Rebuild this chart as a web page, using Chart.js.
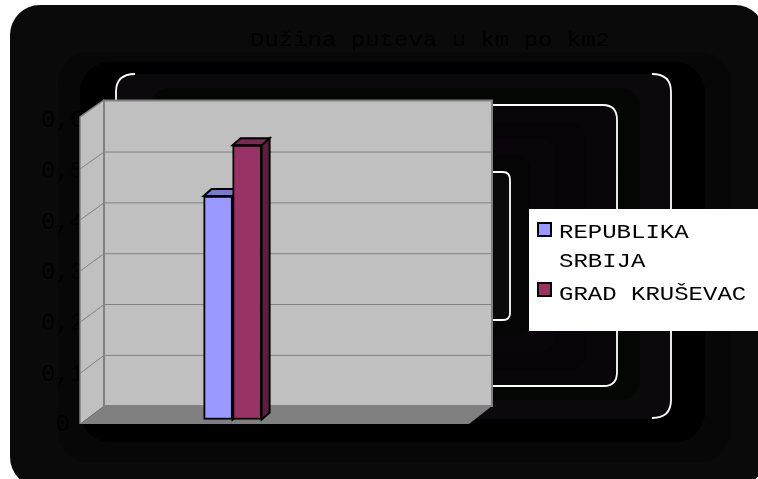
<!DOCTYPE html>
<html>
<head>
<meta charset="utf-8">
<style>
  html, body { margin: 0; padding: 0; background: #fff; }
  canvas { display: block; }
</style>
<script src="https://cdn.jsdelivr.net/npm/chart.js@4/dist/chart.umd.js"></script>
</head>
<body>
<canvas id="chart" width="758" height="479"></canvas>
<script>
const categories = ['']
const seriesNames = ['REPUBLIKA SRBIJA', 'GRAD KRUŠEVAC']
const republikaValues = [0.44]
const krusevacValues = [0.54]
const yTickLabels = ['0', '0,1', '0,2', '0,3', '0,4', '0,5', '0,6']
const titleText = 'Dužina puteva u km po km2'

const FONT = '"Liberation Mono", monospace'
const BLUE = { front: '#9999FF', top: '#7A7ACC', side: '#5C5C99' }
const WINE = { front: '#993366', top: '#7A2952', side: '#5C1F3D' }
const DEPTH_X = 8, DEPTH_Y = 7

// stacked near-black bands behind the plot: x0, y0, x1, y1, radius, colour
const bands = [
  [10, 5, 765, 487, 30, '#0a0a0a'],
  [58, 52, 730, 462, 30, '#070707'],
  [80, 62, 705, 442, 30, '#000000'],
  [116, 74, 671, 419, 20, '#0b090b'],
  [150, 88, 640, 400, 20, '#040604'],
  [200, 105, 617, 386, 15, '#090609'],
  [200, 122, 585, 370, 15, '#080308'],
  [200, 138, 555, 352, 15, '#0a050a'],
  [200, 155, 530, 336, 15, '#050505'],
  [200, 172, 510, 320, 10, '#0a0a0a'],
]

function stretchedText(ctx, text, x, y) {
  ctx.save()
  ctx.translate(x, y)
  ctx.scale(1.2, 1)
  ctx.fillText(text, 0, 0)
  ctx.restore()
}

function drawWhiteRings(ctx) {
  ctx.strokeStyle = '#FFFFFF'
  ctx.lineWidth = 1.8
  ctx.beginPath()
  // outer ring only shows its corners and right edge
  ctx.moveTo(116, 100); ctx.lineTo(116, 92); ctx.quadraticCurveTo(116, 74, 135, 74)
  ctx.moveTo(652, 74); ctx.quadraticCurveTo(671, 74, 671, 92)
  ctx.lineTo(671, 400); ctx.quadraticCurveTo(671, 418, 652, 418)
  // middle ring
  ctx.moveTo(480, 105); ctx.lineTo(603, 105); ctx.quadraticCurveTo(617, 105, 617, 120)
  ctx.lineTo(617, 372); ctx.quadraticCurveTo(617, 386, 604, 386); ctx.lineTo(480, 386)
  // inner ring
  ctx.moveTo(480, 172); ctx.lineTo(503, 172); ctx.quadraticCurveTo(510, 172, 510, 180)
  ctx.lineTo(510, 313); ctx.quadraticCurveTo(510, 320, 503, 320); ctx.lineTo(480, 320)
  ctx.stroke()
}

function poly(ctx, pts, fill) {
  ctx.beginPath()
  pts.forEach((p, i) => i ? ctx.lineTo(p[0], p[1]) : ctx.moveTo(p[0], p[1]))
  ctx.closePath()
  ctx.fillStyle = fill
  ctx.fill()
}

const backdrop = {
  id: 'backdrop',
  beforeDraw(chart) {
    const { ctx } = chart
    ctx.save()
    bands.forEach(([x0, y0, x1, y1, r, color]) => {
      ctx.beginPath()
      ctx.roundRect(x0, y0, x1 - x0, y1 - y0, r)
      ctx.fillStyle = color
      ctx.fill()
    })
    drawWhiteRings(ctx)

    ctx.fillStyle = '#000000'
    ctx.font = '20px ' + FONT
    ctx.textBaseline = 'alphabetic'
    stretchedText(ctx, titleText, 250, 46)
    ctx.restore()
  }
}

// walls, floor and grid of the 3D box, then the hidden faces of the bars
const box3d = {
  id: 'box3d',
  beforeDatasetsDraw(chart) {
    const { ctx } = chart
    const backY = v => 405.7 - v * 508.3
    const frontY = v => 424 - v * 511
    ctx.save()
    poly(ctx, [[80, 117], [104, 100], [104, 406], [80, 424]], '#C0C0C0')
    poly(ctx, [[104, 100], [492, 100], [492, 406], [104, 406]], '#C0C0C0')
    poly(ctx, [[80, 424], [104, 406], [492, 406], [469, 424]], '#808080')

    ctx.strokeStyle = '#808080'
    ctx.lineWidth = 1
    chart.scales.y.ticks.forEach(t => {
      if (t.value <= 0 || t.value >= 0.6) return
      ctx.beginPath()
      ctx.moveTo(80, frontY(t.value) + 0.5)
      ctx.lineTo(104, backY(t.value) + 0.5)
      ctx.lineTo(492, backY(t.value) + 0.5)
      ctx.stroke()
    })
    ctx.lineWidth = 2
    ctx.strokeRect(104, 100.5, 388, 305.5)
    ctx.lineWidth = 1.5
    ctx.beginPath()
    ctx.moveTo(80, 424); ctx.lineTo(80, 117); ctx.lineTo(104, 100)
    ctx.stroke()

    const faces = [BLUE, WINE]
    chart.data.datasets.forEach((ds, i) => {
      const bar = chart.getDatasetMeta(i).data[0]
      const l = bar.x - bar.width / 2, r = bar.x + bar.width / 2
      ctx.strokeStyle = '#000000'
      ctx.lineWidth = 2
      const top = [[l, bar.y], [l + DEPTH_X, bar.y - DEPTH_Y], [r + DEPTH_X, bar.y - DEPTH_Y], [r, bar.y]]
      const side = [[r, bar.y], [r + DEPTH_X, bar.y - DEPTH_Y], [r + DEPTH_X, bar.base - DEPTH_Y], [r, bar.base]]
      poly(ctx, side, faces[i].side); ctx.stroke()
      poly(ctx, top, faces[i].top); ctx.stroke()
    })
    ctx.restore()
  }
}

const sideLegend = {
  id: 'sideLegend',
  afterDatasetsDraw(chart) {
    const { ctx } = chart
    ctx.save()
    ctx.fillStyle = '#FFFFFF'
    ctx.fillRect(529, 209, 229, 122)
    ctx.lineWidth = 2
    ctx.strokeStyle = '#000000'
    ctx.fillStyle = BLUE.front
    ctx.fillRect(538, 223, 13, 13)
    ctx.strokeRect(538, 223, 13, 13)
    ctx.fillStyle = WINE.front
    ctx.fillRect(538, 283, 13, 13)
    ctx.strokeRect(538, 283, 13, 13)

    ctx.fillStyle = '#000000'
    ctx.font = '20px ' + FONT
    ctx.textBaseline = 'alphabetic'
    const [first, second] = seriesNames[0].split(' ')
    stretchedText(ctx, first, 559, 238)
    stretchedText(ctx, second, 559, 267)
    stretchedText(ctx, seriesNames[1], 559, 300)
    ctx.restore()
  }
}

new Chart(document.getElementById('chart').getContext('2d'), {
  type: 'bar',
  data: {
    labels: categories,
    datasets: [
      { label: seriesNames[0], data: republikaValues, backgroundColor: BLUE.front, yAxisID: 'yBar' },
      { label: seriesNames[1], data: krusevacValues, backgroundColor: WINE.front, yAxisID: 'yBar' },
    ]
  },
  options: {
    responsive: false,
    animation: false,
    layout: { padding: { left: 41, right: 377, top: 121, bottom: 54 } },
    datasets: {
      bar: { barThickness: 29, borderColor: '#000000', borderWidth: 2, borderSkipped: false }
    },
    scales: {
      x: { display: false },
      y: {
        min: 0,
        max: 0.6,
        grid: { display: false, drawTicks: false },
        border: { display: false },
        ticks: {
          stepSize: 0.1,
          padding: 0,
          crossAlign: 'center',
          color: '#000000',
          font: { family: FONT, size: 24 },
          callback: (val, i) => yTickLabels[i]
        }
      },
      // bars stand on a plane a little behind the axis labels
      yBar: { display: false, min: -0.0108, max: 0.5876 }
    },
    plugins: {
      legend: { display: false },
      title: { display: false },
      tooltip: { enabled: false }
    }
  },
  plugins: [backdrop, box3d, sideLegend]
})
</script>
</body>
</html>
